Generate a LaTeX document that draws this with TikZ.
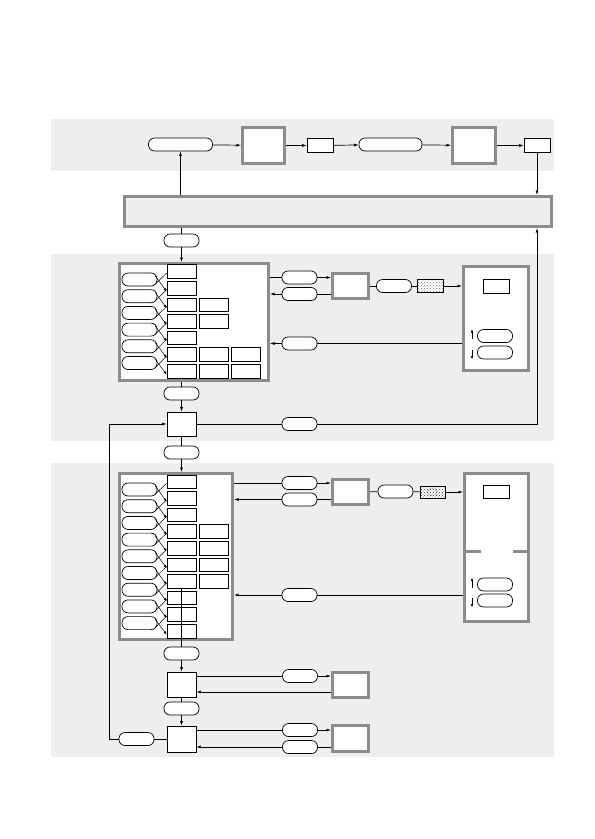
\documentclass[tikz,border=0pt]{standalone}
\usetikzlibrary{arrows.meta,patterns}
\definecolor{bandgray}{gray}{0.935}
\definecolor{framegray}{gray}{0.55}

\begin{document}
\begin{tikzpicture}[x=1pt,y=-1pt,
  pill/.style={draw, fill=white, rounded corners=6pt, minimum width=35pt, minimum height=13pt, inner sep=0pt, line width=0.7pt},
  cell/.style={draw, fill=white, minimum width=29pt, minimum height=13.5pt, inner sep=0pt, line width=0.6pt},
  frame/.style={draw=framegray, line width=3pt, fill=white, inner sep=0pt},
  dotbox/.style={draw, preaction={fill=white}, pattern=crosshatch dots, pattern color=black!55, minimum width=26pt, minimum height=13pt, inner sep=0pt, line width=0.6pt},
  flow/.style={line width=0.7pt},
  arr/.style={flow, -{Latex[length=4.5pt,width=3pt]}},
  tick/.style={line width=0.5pt, -{Latex[length=3.5pt,width=2.4pt]}},
]
\useasboundingbox (0,0) rectangle (595,839);

% ===== Nền các vùng =====
\fill[bandgray] (51,119) rectangle (554,171);
\fill[bandgray] (51,254) rectangle (554,441);
\fill[bandgray] (51,463) rectangle (554,757);

% ===== Hàng trên =====
\node[pill, minimum width=64pt] (src) at (180.5,144.5) {};
\node[frame, minimum width=42pt, minimum height=36pt] (enc) at (263.5,145.5) {};
\node[cell, minimum width=26pt, minimum height=14pt] (tap) at (320,145.5) {};
\node[pill, minimum width=63pt] (lnk) at (390.5,144.5) {};
\node[frame, minimum width=43pt, minimum height=36pt] (dec) at (474,145.5) {};
\node[cell, minimum width=26pt, minimum height=14pt] (out) at (537,145.5) {};

\draw[arr] (src) -- (enc);
\draw[arr] (enc) -- (tap);
\draw[arr] (tap) -- (lnk);
\draw[arr] (lnk) -- (dec);
\draw[arr] (dec) -- (out);

% ===== Thanh ngang =====
\node[frame, fill=bandgray, minimum width=427pt, minimum height=30pt] (bus) at (338,211.5) {};
\draw[arr] (bus.north -| src) -- (src.south);
\draw[arr] (out.south) -- (out.south |- bus.north);

\node[pill] (req) at (181.5,240.5) {};
\draw[flow] (bus.south -| req) -- (req.north);

% ===== Khối thứ nhất =====
\node[frame, minimum width=149pt, minimum height=117pt] (m1) at (194,322) {};
\draw[arr] (req.south) -- (req.south |- m1.north);

\foreach \j in {1,...,7} {
    \node[cell] (a\j) at (181.5,{254.9+16.6*\j}) {};
}
\foreach \j in {3,4,6,7} {
    \node[cell] (b\j) at (213.5,{254.9+16.6*\j}) {};
}
\foreach \j in {6,7} {
    \node[cell] (c\j) at (245.5,{254.9+16.6*\j}) {};
}
\foreach \i in {1,...,6} {
    \node[pill] (u\i) at (139.5,{262.8+16.7*\i}) {};
}
\foreach \i [evaluate=\i as \n using int(\i+1)] in {1,...,6} {
    \draw[line width=0.5pt] ([xshift=-2pt,yshift=-4.5pt]u\i.east) -- ([yshift=-1.5pt]a\i.west);
    \draw[tick] ([xshift=-2pt,yshift=3.5pt]u\i.east) -- ([yshift=-3.5pt]a\n.west);
}

% ===== Bên phải khối thứ nhất =====
\node[pill] (s1) at (299.5,277.5) {};
\node[pill] (s2) at (299.5,294) {};
\node[frame, minimum width=36pt, minimum height=25pt] (mod1) at (350.5,286) {};
\node[pill] (q1) at (394,286) {};
\node[dotbox] (r1) at (430.5,286) {};
\draw[densely dotted, line width=0.8pt, white] (r1.center) ellipse (5pt and 4pt);
\node[frame, minimum width=65pt, minimum height=104pt] (disp1) at (496,318.5) {};
\node[cell, minimum width=26pt, minimum height=14pt] (win1) at (496,286) {};
\node[pill] (k1) at (495,336) {};
\node[pill] (k2) at (495,352.5) {};
\draw[tick] ([xshift=-23pt,yshift=-3pt]k1.center) -- ([xshift=-23pt,yshift=7pt]k1.center);
\draw[tick] ([xshift=-23pt,yshift=3pt]k2.center) -- ([xshift=-23pt,yshift=-7pt]k2.center);
\node[pill] (s3) at (299.5,343.5) {};

\draw[flow] (m1.east |- s1) -- (s1.west);
\draw[arr] (s1.east) -- (mod1.west |- s1);
\draw[flow] (mod1.west |- s2) -- (s2.east);
\draw[arr] (s2.west) -- (m1.east |- s2);
\draw[flow] (mod1) -- (q1);
\draw[flow] (q1) -- (r1);
\draw[arr] (r1) -- (disp1.west |- r1);
\draw[flow] (disp1.west |- s3) -- (s3.east);
\draw[arr] (s3.west) -- (m1.east |- s3);

% ===== Nút chọn thứ nhất =====
\node[pill] (p1) at (181.5,393.5) {};
\node[cell, minimum height=24pt] (mux) at (181.5,424) {};
\node[pill] (s4) at (299.5,424) {};
\draw[flow] (m1.south -| p1) -- (p1.north);
\draw[arr] (p1.south) -- (mux.north);
\draw[flow] (mux.east) -- (s4.west);
\draw[arr] (s4.east) -| (out |- bus.south);

\node[pill] (p2) at (181.5,452.5) {};
\draw[flow] (mux.south) -- (p2.north);

% ===== Khối thứ hai =====
\node[frame, minimum width=113pt, minimum height=166pt] (m2) at (176,556.5) {};
\draw[arr] (p2.south) -- (p2.south |- m2.north);

\foreach \j in {1,...,10} {
    \node[cell] (d\j) at (181.5,{465.1+16.6*\j}) {};
}
\foreach \j in {4,...,7} {
    \node[cell] (e\j) at (213.5,{465.1+16.6*\j}) {};
}
\foreach \i in {1,...,9} {
    \node[pill] (v\i) at (139.5,{472.8+16.7*\i}) {};
}
\foreach \i [evaluate=\i as \n using int(\i+1)] in {1,...,9} {
    \draw[line width=0.5pt] ([xshift=-2pt,yshift=-4.5pt]v\i.east) -- ([yshift=-1.5pt]d\i.west);
    \draw[tick] ([xshift=-2pt,yshift=3.5pt]v\i.east) -- ([yshift=-3.5pt]d\n.west);
}

% ===== Bên phải khối thứ hai =====
\node[pill] (t1) at (299.5,483) {};
\node[pill] (t2) at (299.5,499.5) {};
\node[frame, minimum width=36pt, minimum height=25pt] (mod2) at (350.5,492) {};
\node[pill] (q2) at (395.5,491.5) {};
\node[dotbox, pattern color=black!80, minimum width=25pt, minimum height=12pt] (r2) at (432.5,492) {};
\draw[densely dotted, line width=0.6pt, black!60] (r2.center) ellipse (5pt and 3.8pt);
\node[frame, minimum width=64pt, minimum height=148pt] (disp2) at (496.5,547.5) {};
\draw[framegray, line width=3pt] (464.5,551) -- (481,551);
\draw[framegray, line width=3pt] (513,551) -- (528.5,551);
\node[cell, minimum width=26pt, minimum height=13pt] (win2) at (496,491.5) {};
\node[pill] (k3) at (495,584.5) {};
\node[pill] (k4) at (495,600.5) {};
\draw[tick] ([xshift=-23pt,yshift=-3pt]k3.center) -- ([xshift=-23pt,yshift=7pt]k3.center);
\draw[tick] ([xshift=-23pt,yshift=3pt]k4.center) -- ([xshift=-23pt,yshift=-7pt]k4.center);
\node[pill] (t3) at (299.5,595) {};

\draw[flow] (m2.east |- t1) -- (t1.west);
\draw[arr] (t1.east) -- (mod2.west |- t1);
\draw[flow] (mod2.west |- t2) -- (t2.east);
\draw[arr] (t2.west) -- (m2.east |- t2);
\draw[flow] (mod2) -- (q2);
\draw[flow] (q2) -- (r2);
\draw[arr] (r2) -- (disp2.west |- r2);
\draw[flow] (disp2.west |- t3) -- (t3.east);
\draw[arr] (t3.west) -- (m2.east |- t3);

% ===== Hai nút chọn dưới =====
\node[pill] (p3) at (181.5,653.5) {};
\node[cell, minimum height=25pt] (sel1) at (181.5,684.5) {};
\node[pill] (w1) at (300,676) {};
\node[frame, minimum width=36pt, minimum height=25pt] (ext1) at (350.5,685) {};
\coordinate (b1) at ([yshift=-7pt]ext1.west);

\draw[flow] (d7.south) -- (p3.north);
\draw[arr] (p3.south) -- (sel1.north);
\draw[flow] (sel1.east |- w1) -- (w1.west);
\draw[arr] (w1.east) -- (ext1.west |- w1);
\draw[arr] (b1) -- (b1 -| sel1.east);

\node[pill] (p4) at (181.5,708.5) {};
\node[cell, minimum height=26pt] (sel2) at (181.5,739) {};
\node[pill] (w2) at (300,730) {};
\node[pill] (w3) at (300,747) {};
\node[frame, minimum width=36pt, minimum height=26pt] (ext2) at (350.5,738.5) {};
\node[pill] (w4) at (136.5,739) {};

\draw[flow] (sel1.south) -- (p4.north);
\draw[arr] (p4.south) -- (sel2.north);
\draw[flow] (sel2.east |- w2) -- (w2.west);
\draw[arr] (w2.east) -- (ext2.west |- w2);
\draw[flow] (ext2.west |- w3) -- (w3.east);
\draw[arr] (w3.west) -- (sel2.east |- w3);

% ===== Vòng hồi tiếp =====
\draw[flow] (sel2.west) -- (w4.east);
\draw[arr] (w4.west) -- ++(-9,0) |- (mux.west);

\end{tikzpicture}
\end{document}
